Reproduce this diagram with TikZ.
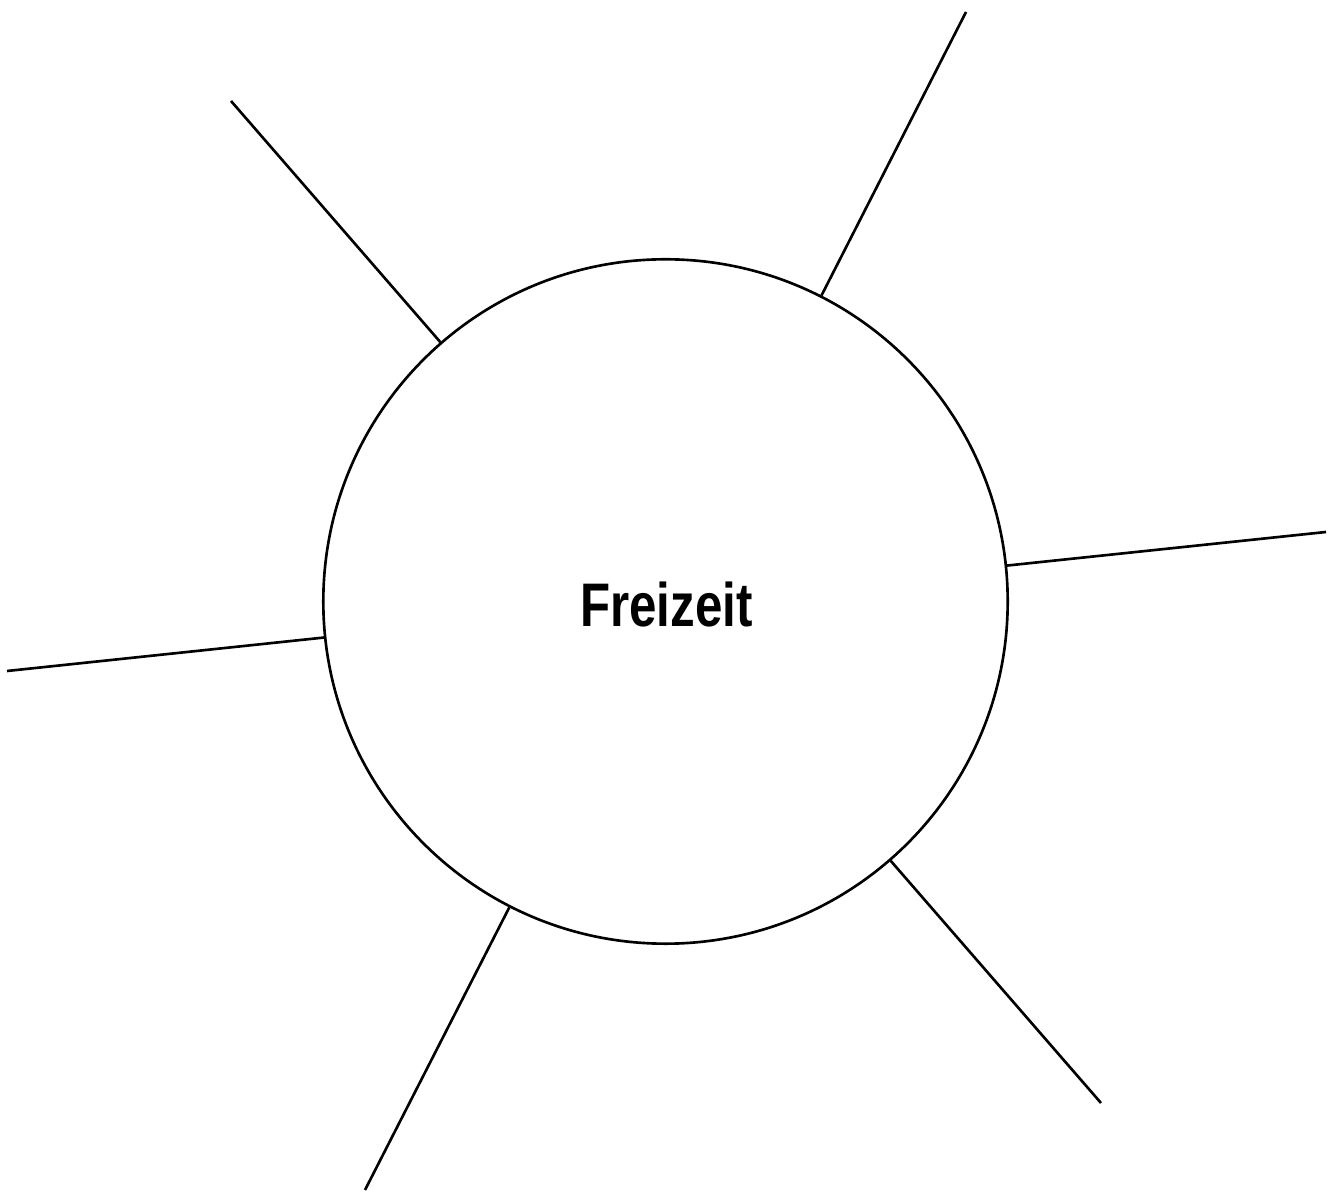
\documentclass[tikz,border=0pt]{standalone}
\usepackage{fontspec}
\newfontfamily\condfont[FakeStretch=0.8]{Liberation Sans}
\begin{document}
\begin{tikzpicture}[x=0.01cm,y=-0.01cm,
  ray/.style={line width=0.75pt,black},
  hub/.style={circle,draw,line width=0.75pt,minimum size=6.84cm,inner sep=0pt},
  lbl/.style={font=\condfont\bfseries\fontsize{17.5}{20}\selectfont,inner sep=0pt}]
\useasboundingbox (0,0) rectangle (1333,1192);
\node[hub] (c) at (665.5,601.5) {};
\node[lbl] (t) at (666.5,604.5) {Freizeit};
\coordinate (e1) at (231,101);
\coordinate (e2) at (966,12);
\coordinate (e3) at (1326,532);
\coordinate (e4) at (7,671);
\coordinate (e5) at (365,1190);
\coordinate (e6) at (1101,1103);
\foreach \i in {1,...,6} \draw[ray] (c) -- (e\i);
\end{tikzpicture}
\end{document}
